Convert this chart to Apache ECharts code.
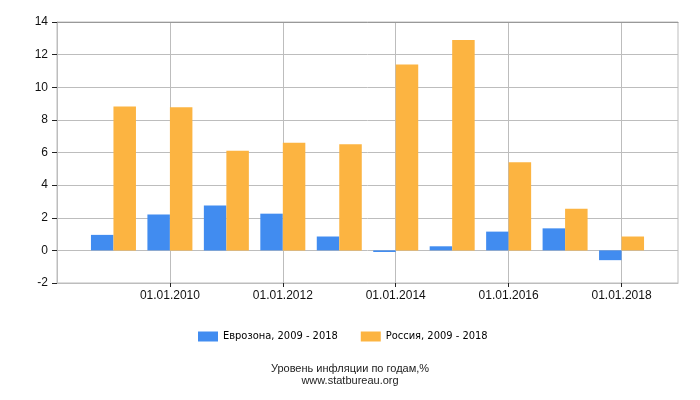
<!DOCTYPE html>
<html>
<head>
<meta charset="utf-8">
<script src="https://cdn.jsdelivr.net/npm/echarts@6/dist/echarts.min.js"></script>
<style>html,body{margin:0;padding:0;background:#fff}#c{width:700px;height:400px}</style>
</head>
<body>
<div id="c"></div>
<script>
var years = [2009, 2010, 2011, 2012, 2013, 2014, 2015, 2016, 2017, 2018];
var euroValues = [0.95, 2.2, 2.75, 2.25, 0.85, -0.1, 0.25, 1.15, 1.35, -0.6];
var russiaValues = [8.82, 8.78, 6.1, 6.6, 6.5, 11.4, 12.9, 5.4, 2.55, 0.85];
var tickYears = [2010, 2012, 2014, 2016, 2018];
var seriesNames = ['Еврозона, 2009 - 2018', 'Россия, 2009 - 2018'];

function pairs(vals) { return years.map(function (y, i) { return [y, vals[i]]; }); }

var chart = echarts.init(document.getElementById('c'), null, {renderer: 'canvas'});
chart.setOption({
  animation: false,
  color: ['#418CF0', '#FCB441'],
  title: {
    text: 'Уровень инфляции по годам,%\nwww.statbureau.org',
    left: 'center', top: 358,
    textStyle: {fontFamily: 'Liberation Sans', fontSize: 11, fontWeight: 'normal', color: '#222', lineHeight: 12}
  },
  legend: {
    bottom: 53, left: 193,
    itemWidth: 20, itemHeight: 10, itemGap: 23, icon: 'rect',
    textStyle: {fontFamily: 'DejaVu Sans Condensed', fontSize: 11, color: '#000'},
    data: seriesNames
  },
  grid: {left: 57, right: 22, top: 22, bottom: 117, show: true, borderColor: '#bdbdbd', borderWidth: 1},
  xAxis: [{
    type: 'value', min: 2008, max: 2019, interval: 2, position: 'bottom',
    axisLine: {show: true, onZero: false, lineStyle: {color: '#bdbdbd'}},
    axisTick: {show: true, length: 4, lineStyle: {color: '#222'}, customValues: tickYears},
    axisLabel: {customValues: tickYears, formatter: function (v) { return '01.01.' + v; },
      fontFamily: 'Liberation Sans', fontSize: 12, color: '#111', margin: 7},
    splitLine: {show: true, lineStyle: {color: '#bdbdbd'}}
  }, {
    type: 'value', min: 2008, max: 2019, interval: 2, position: 'top',
    axisLine: {show: true, onZero: false, lineStyle: {color: '#999'}},
    axisTick: {show: false}, axisLabel: {show: false}, splitLine: {show: false}
  }],
  yAxis: {
    type: 'value', min: -2, max: 14, interval: 2,
    axisLine: {show: true, onZero: false, lineStyle: {color: '#bdbdbd'}},
    axisTick: {show: true, length: 5, lineStyle: {color: '#222'}},
    axisLabel: {fontFamily: 'Liberation Sans', fontSize: 12, color: '#111', margin: 9},
    splitLine: {show: true, lineStyle: {color: '#bdbdbd'}}
  },
  series: [
    {name: seriesNames[0], type: 'bar', barWidth: 22.5, barGap: '0%', data: pairs(euroValues)},
    {name: seriesNames[1], type: 'bar', barWidth: 22.5, barGap: '0%', data: pairs(russiaValues)}
  ]
});
</script>
</body>
</html>
